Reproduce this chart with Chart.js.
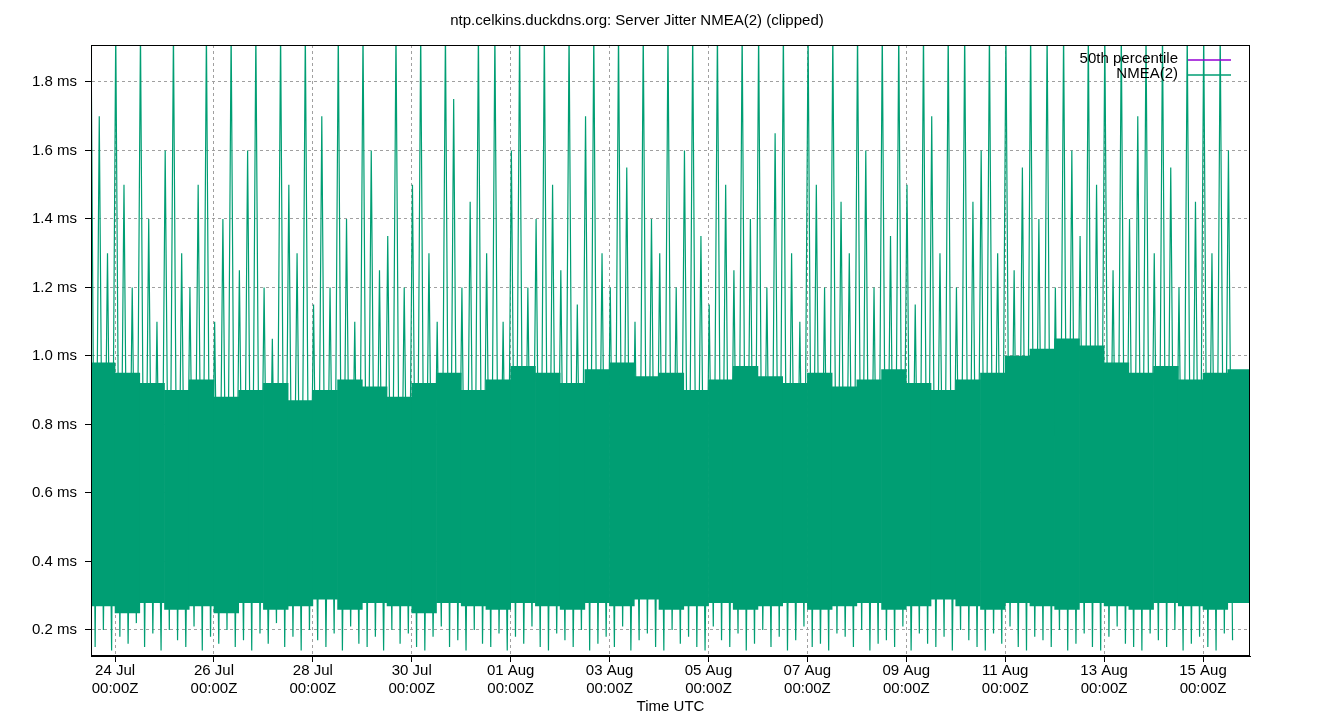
<!DOCTYPE html>
<html><head><meta charset="utf-8">
<script src="https://cdn.jsdelivr.net/npm/chart.js@4/dist/chart.umd.min.js"></script>
<style>body{margin:0;background:#fff}#wrap{width:1340px;height:720px}</style>
</head><body><div id="wrap"><canvas id="chart"></canvas></div>
<script>
// x is days since 24 Jul 00:00Z
const tickDays = [0, 2, 4, 6, 8, 10, 12, 14, 16, 18, 20, 22];
const tickLabels = ['24 Jul', '26 Jul', '28 Jul', '30 Jul', '01 Aug', '03 Aug', '05 Aug', '07 Aug', '09 Aug', '11 Aug', '13 Aug', '15 Aug'];
const yTicks = [0.2, 0.4, 0.6, 0.8, 1.0, 1.2, 1.4, 1.6, 1.8];

// dense core band, one bin per 12h starting at -0.5 days
const coreLo = [0.27,0.25,0.28,0.26,0.27,0.25,0.28,0.26,0.27,0.29,0.26,0.28,0.27,0.25,0.28,0.27,0.26,0.28,0.27,0.26,0.28,0.27,0.29,0.26,0.27,0.28,0.26,0.27,0.28,0.26,0.27,0.28,0.26,0.27,0.29,0.27,0.26,0.28,0.27,0.26,0.28,0.27,0.26,0.28,0.27,0.26,0.28];
const coreHi = [0.98,0.95,0.92,0.9,0.93,0.88,0.9,0.92,0.87,0.9,0.93,0.91,0.88,0.92,0.95,0.9,0.93,0.97,0.95,0.92,0.96,0.98,0.94,0.95,0.9,0.93,0.97,0.94,0.92,0.95,0.91,0.93,0.96,0.92,0.9,0.93,0.95,1.0,1.02,1.05,1.03,0.98,0.95,0.97,0.93,0.95,0.96];

// spikes, one pair per 4h starting at -0.48 days
const spikeHi = [1.95,1.7,1.3,1.95,1.5,1.2,1.95,1.4,1.1,1.6,1.95,1.3,1.2,1.5,1.95,1.1,1.4,1.95,1.25,1.6,1.95,1.2,1.05,1.95,1.5,1.3,1.95,1.15,1.7,1.2,1.95,1.4,1.1,1.95,1.6,1.25,1.35,1.95,1.2,1.5,1.95,1.3,1.1,1.95,1.75,1.2,1.45,1.95,1.3,1.95,1.1,1.6,1.95,1.2,1.4,1.95,1.5,1.25,1.95,1.15,1.7,1.95,1.3,1.2,1.95,1.55,1.1,1.95,1.4,1.3,1.95,1.2,1.6,1.95,1.35,1.15,1.95,1.5,1.25,1.95,1.4,1.95,1.2,1.65,1.95,1.3,1.1,1.95,1.5,1.2,1.95,1.45,1.3,1.95,1.6,1.2,1.95,1.35,1.95,1.5,1.15,1.95,1.7,1.3,1.95,1.2,1.95,1.45,1.6,1.95,1.3,1.95,1.25,1.55,1.95,1.4,1.95,1.2,1.95,1.6,1.35,1.95,1.5,1.95,1.25,1.95,1.4,1.7,1.95,1.3,1.95,1.55,1.2,1.95,1.45,1.95,1.3,1.95,1.6];
const spikeLo = [0.15,0.2,0.14,0.18,0.16,0.22,0.15,0.19,0.14,0.2,0.17,0.15,0.21,0.14,0.18,0.16,0.2,0.15,0.17,0.14,0.19,0.16,0.22,0.15,0.18,0.14,0.2,0.17,0.15,0.19,0.14,0.21,0.16,0.15,0.18,0.14,0.2,0.16,0.19,0.15,0.14,0.18,0.21,0.15,0.17,0.14,0.2,0.16,0.15,0.19,0.14,0.18,0.16,0.21,0.15,0.14,0.19,0.17,0.15,0.2,0.14,0.16,0.18,0.15,0.21,0.14,0.17,0.19,0.15,0.14,0.2,0.16,0.18,0.15,0.14,0.21,0.17,0.15,0.19,0.14,0.16,0.2,0.15,0.18,0.14,0.17,0.21,0.15,0.16,0.14,0.19,0.18,0.15,0.2,0.14,0.16,0.17,0.15,0.21,0.14,0.19,0.16,0.15,0.18,0.14,0.2,0.17,0.15,0.14,0.19,0.16,0.21,0.15,0.14,0.18,0.17,0.15,0.2,0.14,0.16,0.19,0.15,0.14,0.18,0.21,0.16,0.15,0.14,0.19,0.17,0.15,0.2,0.14,0.16,0.18,0.15,0.14,0.19,0.17];

const X0 = -0.486, X1 = 22.95;
const green = '#009e73';

const coreData = coreLo.map((lo, i) => ({x: -0.25 + i * 0.5, y: [lo, coreHi[i]]}));
const spikeData = [];
spikeHi.forEach((h, i) => {
  const t = X0 + i / 6;
  spikeData.push({x: t, y: h});
  spikeData.push({x: t + 1 / 12, y: spikeLo[i]});
});

const legendPlugin = {
  id: 'gpLegend',
  afterDatasetsDraw(chart) {
    const ctx = chart.ctx, a = chart.chartArea;
    ctx.save();
    ctx.strokeStyle = '#000';
    ctx.lineWidth = 1;
    ctx.strokeRect(a.left + 0.5, a.top + 0.5, a.right - a.left - 1, a.bottom - a.top - 1);
    ctx.font = '15px "Liberation Sans", Arial, sans-serif';
    ctx.textAlign = 'right';
    ctx.textBaseline = 'middle';
    ctx.fillStyle = '#000';
    ctx.fillText('50th percentile', 1178, 59);
    ctx.fillText('NMEA(2)', 1178, 74);
    ctx.lineWidth = 1.5;
    ctx.strokeStyle = '#9400d3';
    ctx.beginPath(); ctx.moveTo(1188, 60); ctx.lineTo(1231, 60); ctx.stroke();
    ctx.strokeStyle = green;
    ctx.beginPath(); ctx.moveTo(1188, 75); ctx.lineTo(1231, 75); ctx.stroke();
    ctx.restore();
  }
};

const font = {family: '"Liberation Sans", Arial, sans-serif', size: 15, weight: 'normal'};

new Chart(document.getElementById('chart').getContext('2d'), {
  data: {
    datasets: [{
      type: 'bar',
      data: coreData,
      backgroundColor: green,
      barPercentage: 1,
      categoryPercentage: 1,
      grouped: false
    }, {
      type: 'line',
      data: spikeData,
      borderColor: green,
      borderWidth: 1.2,
      pointRadius: 0,
      tension: 0
    }]
  },
  plugins: [legendPlugin],
  options: {
    responsive: true,
    maintainAspectRatio: false,
    animation: false,
    layout: {padding: {left: 24, right: 90, top: 0, bottom: 0}},
    plugins: {
      legend: {display: false},
      tooltip: {enabled: false},
      title: {display: true, text: 'ntp.celkins.duckdns.org: Server Jitter NMEA(2) (clipped)', color: '#000', font: font, padding: {top: 12, bottom: 15}}
    },
    scales: {
      x: {
        type: 'linear', min: X0, max: X1, offset: false,
        afterBuildTicks: s => { s.ticks = tickDays.map(v => ({value: v})); },
        ticks: {
          color: '#000', font: font, maxRotation: 0, autoSkip: false, padding: 0,
          callback: (v) => [tickLabels[tickDays.indexOf(v)], '00:00Z']
        },
        grid: {color: '#a0a0a0', tickColor: '#000', tickLength: 6, offset: false},
        border: {color: '#000', dash: [3, 3]},
        title: {display: true, text: 'Time UTC', color: '#000', font: font, padding: {top: 0, bottom: 4}}
      },
      y: {
        type: 'linear', min: 0.124, max: 1.908,
        afterBuildTicks: s => { s.ticks = yTicks.map(v => ({value: v})); },
        ticks: {color: '#000', font: font, padding: 8, callback: v => v.toFixed(1) + ' ms'},
        grid: {color: '#a0a0a0', tickColor: '#000', tickLength: 6},
        border: {color: '#000', dash: [3, 3]}
      }
    }
  }
});
</script></body></html>
